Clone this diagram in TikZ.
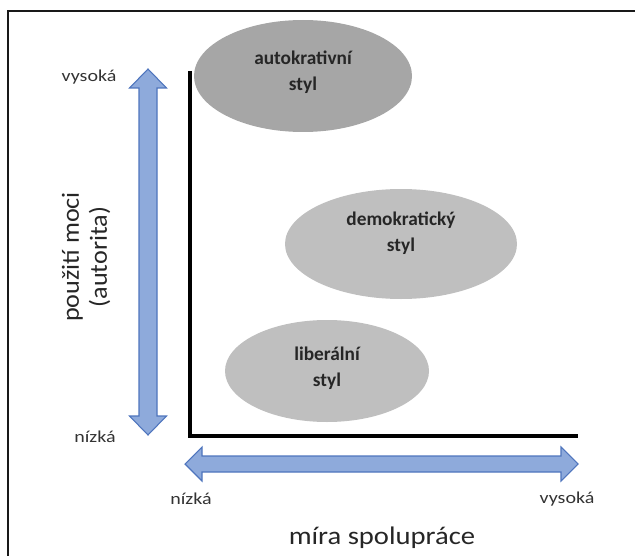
\documentclass[tikz,border=0pt]{standalone}
\usepackage{fontspec}
\setmainfont{Carlito}
\usetikzlibrary{shapes.geometric}
\definecolor{arrowfill}{HTML}{8EAADB}
\definecolor{arrowline}{HTML}{4F75BD}
\definecolor{darkstyle}{HTML}{A6A6A6}
\definecolor{lightstyle}{HTML}{BFBFBF}
\newcommand{\wide}[2]{\scalebox{#1}[1]{#2}}
\tikzset{
  stylebubble/.style={ellipse, draw=none, inner sep=0pt},
  bubbletext/.style={align=center, font=\fontsize{14.5}{19.5}\selectfont\bfseries, text=black!85},
  scalelabel/.style={font=\fontsize{12.5}{14}\selectfont, text=black!80},
  axistitle/.style={text=black!85, align=center},
  axisline/.style={line width=2.3pt, black},
  fatarrow/.style={fill=arrowfill, draw=arrowline, line width=0.8pt, line join=miter},
}
\begin{document}
\begin{tikzpicture}[x=0.75pt,y=-0.75pt]
\useasboundingbox (0,0) rectangle (635,556);
% frame
\draw[line width=1.6pt, black!90] (8,570) -- (8,11) -- (650,11);

% style ellipses
\node[stylebubble, fill=darkstyle, minimum width=163.5pt, minimum height=84pt] (auto) at (303,76) {};
\node[stylebubble, fill=lightstyle, minimum width=174pt, minimum height=82.5pt] (demo) at (401,244) {};
\node[stylebubble, fill=lightstyle, minimum width=153pt, minimum height=76.5pt] (lib) at (327,371) {};
\node[bubbletext] (autotext) at ([yshift=3pt]auto.center) {autokrativní\\styl};
\node[bubbletext] (demotext) at ([yshift=8pt]demo.center) {demokratický\\styl};
\node[bubbletext] (libtext) at ([yshift=2pt]lib.center) {liberální\\styl};

% axes
\coordinate (top) at (190,71);
\coordinate (origin) at (190,436);
\coordinate (right) at (578,436);
\draw[axisline] (top) -- (origin) -- (right);

% vertical double arrow
\draw[fatarrow] (148,69) -- (166.5,88) -- (157,88) -- (157,416) -- (166.5,416)
  -- (148,435) -- (129.5,416) -- (139,416) -- (139,88) -- (129.5,88) -- cycle;
% horizontal double arrow
\draw[fatarrow] (185,464) -- (202,447) -- (202,456) -- (561,456) -- (561,447)
  -- (578,464) -- (561,481) -- (561,472) -- (202,472) -- (202,481) -- cycle;

% scale labels
\node[scalelabel] (vhigh) at (89,77) {\wide{1.2}{vysoká}};
\node[scalelabel] (vlow) at (95,437) {\wide{1.2}{nízká}};
\node[scalelabel] (hlow) at (191,499) {\wide{1.2}{nízká}};
\node[scalelabel] (hhigh) at (567,499) {\wide{1.2}{vysoká}};

% axis titles
\node[axistitle, rotate=90, font=\fontsize{18.5}{21}\selectfont] (vtitle) at (86,257)
  {\wide{1.06}{použití moci}\\\wide{1.06}{(autorita)}};
\node[axistitle, anchor=base, font=\fontsize{19}{22}\selectfont] (htitle) at (382,544)
  {\wide{1.13}{míra spolupráce}};
\end{tikzpicture}
\end{document}
